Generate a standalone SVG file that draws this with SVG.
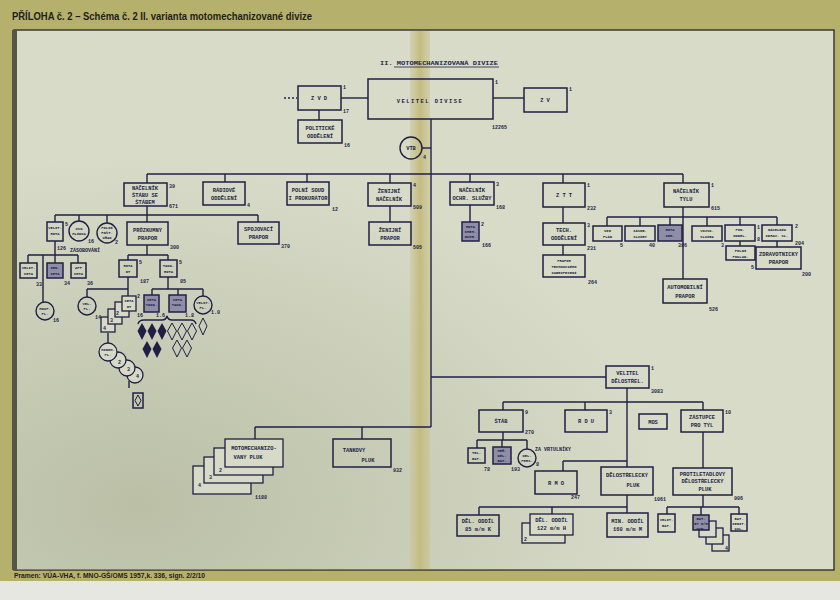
<svg xmlns="http://www.w3.org/2000/svg" width="840" height="600" viewBox="0 0 840 600">
<defs>
<style>
.t{font-family:"Liberation Mono","DejaVu Sans Mono",monospace;font-weight:bold;font-size:5.4px;fill:#221f45;text-anchor:middle}
.s{font-family:"Liberation Mono","DejaVu Sans Mono",monospace;font-weight:bold;font-size:3.8px;fill:#221f45;text-anchor:middle}
.n{font-family:"Liberation Mono","DejaVu Sans Mono",monospace;font-weight:bold;font-size:5px;fill:#221f45}
.b{fill:none;stroke:#221f45;stroke-width:1.5}
.bf{fill:#d6dac7;stroke:#221f45;stroke-width:1.3}
.d{fill:#8e8ea6;stroke:#221f45;stroke-width:1.5}
.c{fill:none;stroke:#221f45;stroke-width:1.4}
.cf{fill:#d6dac7;stroke:#221f45;stroke-width:1.3}
.fd{fill:#221f45}
.hd{fill:none;stroke:#221f45;stroke-width:1}
#conn path{stroke:#221f45;stroke-width:1.4;fill:none}
.hdr{font-family:"Liberation Sans",Arial,sans-serif;font-weight:bold;fill:#1e1e16}
</style>
<radialGradient id="shade" cx="0.15" cy="0.88" r="0.65">
<stop offset="0" stop-color="#9ea384" stop-opacity="0.5"/>
<stop offset="1" stop-color="#9ea384" stop-opacity="0"/>
</radialGradient>
<linearGradient id="fold" x1="0" y1="0" x2="1" y2="0">
<stop offset="0" stop-color="#c9c391" stop-opacity="0.4"/>
<stop offset="0.5" stop-color="#c4bb7e"/>
<stop offset="1" stop-color="#c9c391" stop-opacity="0.5"/>
</linearGradient>
</defs>

<!-- background -->
<rect x="0" y="0" width="840" height="600" fill="#e7e7e2"/>
<rect x="0" y="0" width="840" height="581" fill="#b6b06d"/>
<rect x="14" y="30" width="820" height="540" fill="#d7dbc8" stroke="#3c3c30" stroke-width="1.5"/>
<rect x="14" y="30" width="820" height="540" fill="url(#shade)"/>
<rect x="12" y="30" width="5" height="540" fill="#55564a"/>
<rect x="410" y="31" width="20" height="538" fill="url(#fold)"/>
<text class="hdr" x="12" y="20" font-size="10" textLength="300" lengthAdjust="spacingAndGlyphs">PŘÍLOHA č. 2 – Schéma č. 2 II. varianta motomechanizované divize</text>
<text class="hdr" x="14" y="578" font-size="6.8" textLength="191" lengthAdjust="spacingAndGlyphs">Pramen: VÚA-VHA, f. MNO-GŠ/OMS 1957,k. 336, sign. 2/2/10</text>

<text class="n" x="380" y="65" font-size="5.5" textLength="118" lengthAdjust="spacingAndGlyphs">II. MOTOMECHANIZOVANÁ DIVIZE</text>
<path d="M394,67 H499" stroke="#221f45" stroke-width="0.8"/>

<!-- connectors -->
<g id="conn">
<path d="M284,98 H297" stroke-dasharray="2,2"/>
<path d="M341,98 H368"/>
<path d="M319,110 V120"/>
<path d="M493,98 H524"/>
<path d="M431,119 V427"/>
<path d="M422,148 H431"/>
<path d="M147,174 H683"/>
<path d="M147,174 V183 M225,174 V182 M307,174 V182 M390,174 V183 M470,174 V182 M563,174 V183 M683,174 V183"/>
<path d="M390,206 V222 M470,205 V222 M563,207 V223 M563,245 V255"/>
<path d="M683,207 V279 M607,217 H777 M607,217 V226 M640,217 V226 M670,217 V225 M707,217 V226 M740,217 V225 M777,217 V225 M740,241 V246 M777,241 V247"/>
<path d="M147,206 V222 M55,215 H258 M55,215 V222 M79,215 V221 M107,215 V223 M258,215 V222"/>
<path d="M55,241 V263 M28,255 H78 M28,255 V263 M43,255 V302 M78,255 V263"/>
<path d="M147,245 V255 M128,255 H168 M128,255 V260 M168,255 V260"/>
<path d="M128,277 V296 M87,289 H128 M87,289 V297"/>
<path d="M168,277 V289 M152,289 H203 M152,289 V295 M178,289 V295 M203,289 V296"/>
<path d="M108,333 V343"/>
<path d="M129,381 V388"/>
<path d="M138,324 Q139,320 144,320 H162 Q166,320 167,316 Q168,320 172,320 H191 Q195,320 196,324"/>
<path d="M255,427 H431 M255,427 V439 M362,427 V439"/>
<path d="M431,377 H606"/>
<path d="M627,388 V467"/>
<path d="M503,402 H703 M503,402 V410 M585,402 V410 M703,402 V410"/>
<path d="M503,432 V440 M477,440 H527 M477,440 V448 M502,440 V447 M527,440 V449"/>
<path d="M563,461 H627 M563,461 V471"/>
<path d="M703,432 V468"/>
<path d="M627,495 V507 M479,507 H627 M479,507 V515 M552,507 V514 M627,507 V513"/>
<path d="M703,495 V507 M667,507 H739 M667,507 V514 M701,507 V515 M739,507 V514"/>
</g>

<!-- top level -->
<g id="velitel-divise">
<rect class="b" x="368" y="79" width="125" height="40"/>
<text class="t" x="430" y="103" font-size="7" letter-spacing="1.5">VELITEL DIVISE</text>
<text class="n" x="495" y="84">1</text>
<text class="n" x="492" y="129">12265</text>
</g>
<g id="zvd">
<rect class="b" x="298" y="86" width="43" height="24"/>
<text class="t" x="319" y="100" font-size="6">Z V D</text>
<text class="n" x="343" y="89">1</text>
<text class="n" x="343" y="113">17</text>
</g>
<g id="politicke">
<rect class="b" x="298" y="120" width="44" height="23"/>
<text class="t" x="320" y="130">POLITICKÉ</text>
<text class="t" x="320" y="138">ODDĚLENÍ</text>
<text class="n" x="344" y="147">16</text>
</g>
<g id="zv">
<rect class="b" x="524" y="88" width="43" height="24"/>
<text class="t" x="545" y="102" font-size="6">Z V</text>
<text class="n" x="569" y="91">1</text>
</g>
<g id="vtb">
<circle class="c" cx="411" cy="148" r="11"/>
<text class="t" x="411" y="150">VTB</text>
<text class="n" x="423" y="159">4</text>
</g>

<!-- row 1 -->
<g id="nacelnik-stabu">
<rect class="b" x="124" y="183" width="43" height="23"/>
<text class="t" x="145" y="190">NÁČELNÍK</text>
<text class="t" x="145" y="197">ŠTÁBU SE</text>
<text class="t" x="145" y="204">ŠTÁBEM</text>
<text class="n" x="169" y="188">39</text>
<text class="n" x="169" y="208">671</text>
</g>
<g id="radiove">
<rect class="b" x="203" y="182" width="42" height="23"/>
<text class="t" x="224" y="192">RÁDIOVÉ</text>
<text class="t" x="224" y="200">ODDĚLENÍ</text>
<text class="n" x="247" y="207">4</text>
</g>
<g id="polni-soud">
<rect class="b" x="287" y="182" width="42" height="23"/>
<text class="t" x="308" y="192">POLNÍ SOUD</text>
<text class="t" x="308" y="200">I PROKURÁTOR</text>
<text class="n" x="332" y="211">12</text>
</g>
<g id="zenijni-nacelnik">
<rect class="b" x="368" y="183" width="43" height="23"/>
<text class="t" x="389" y="193">ŽENIJNÍ</text>
<text class="t" x="389" y="201">NÁČELNÍK</text>
<text class="n" x="413" y="187">4</text>
<text class="n" x="413" y="209">509</text>
</g>
<g id="zenijni-prapor">
<rect class="b" x="369" y="222" width="42" height="23"/>
<text class="t" x="390" y="232">ŽENIJNÍ</text>
<text class="t" x="390" y="240">PRAPOR</text>
<text class="n" x="413" y="249">505</text>
</g>
<g id="nacelnik-ochr">
<rect class="b" x="450" y="182" width="44" height="23"/>
<text class="t" x="472" y="192">NÁČELNÍK</text>
<text class="t" x="472" y="200">OCHR. SLUŽBY</text>
<text class="n" x="496" y="186">3</text>
<text class="n" x="496" y="209">168</text>
</g>
<g id="rota-chem">
<rect class="d" x="462" y="222" width="17" height="19"/>
<text class="s" x="470.5" y="228">ROTA</text>
<text class="s" x="470.5" y="233">CHEM.</text>
<text class="s" x="470.5" y="238">OCHR.</text>
<text class="n" x="481" y="226">2</text>
<text class="n" x="482" y="247">166</text>
</g>
<g id="ztt">
<rect class="b" x="543" y="183" width="42" height="24"/>
<text class="t" x="564" y="197" font-size="6">Z T T</text>
<text class="n" x="587" y="187">1</text>
<text class="n" x="587" y="210">232</text>
</g>
<g id="tech-oddeleni">
<rect class="b" x="543" y="223" width="42" height="22"/>
<text class="t" x="564" y="232">TECH.</text>
<text class="t" x="564" y="240">ODDĚLENÍ</text>
<text class="n" x="587" y="227">3</text>
<text class="n" x="587" y="250">231</text>
</g>
<g id="prapor-tz">
<rect class="b" x="543" y="255" width="42" height="22" fill="#b3b4c0"/>
<text class="s" x="564" y="262">PRAPOR</text>
<text class="s" x="564" y="268">TECHNICKÉHO</text>
<text class="s" x="564" y="274">ZABEZPEČENÍ</text>
<text class="n" x="588" y="284">264</text>
</g>
<g id="nacelnik-tylu">
<rect class="b" x="664" y="183" width="45" height="24"/>
<text class="t" x="686" y="193">NÁČELNÍK</text>
<text class="t" x="686" y="201">TÝLU</text>
<text class="n" x="711" y="187">1</text>
<text class="n" x="711" y="210">615</text>
</g>
<g id="seo-plan">
<rect class="b" x="593" y="226" width="29" height="15"/>
<text class="s" x="607.5" y="232">SEO</text>
<text class="s" x="607.5" y="238">PLÁN</text>
<text class="n" x="620" y="247">5</text>
</g>
<g id="zasob-sluzby">
<rect class="b" x="625" y="226" width="30" height="15"/>
<text class="s" x="640" y="232">ZÁSOB.</text>
<text class="s" x="640" y="238">SLUŽBY</text>
<text class="n" x="649" y="247">40</text>
</g>
<g id="zdr-prapor">
<rect class="d" x="658" y="225" width="24" height="16"/>
<text class="s" x="670" y="231">ROTA</text>
<text class="s" x="670" y="237">ZDR.</text>
<text class="n" x="678" y="247">386</text>
</g>
<g id="vojsk-sluzba">
<rect class="b" x="692" y="226" width="30" height="15"/>
<text class="s" x="707" y="232">VOJSK.</text>
<text class="s" x="707" y="238">SLUŽBA</text>
<text class="n" x="721" y="247">3</text>
</g>
<g id="fin-oddel">
<rect class="b" x="725" y="225" width="30" height="16"/>
<text class="s" x="740" y="231">FIN.</text>
<text class="s" x="740" y="237">ODDĚL.</text>
<text class="n" x="757" y="229">1</text>
<text class="n" x="757" y="241">8</text>
</g>
<g id="polni-poklad">
<rect class="b" x="726" y="246" width="29" height="14"/>
<text class="s" x="740.5" y="252">POLNÍ</text>
<text class="s" x="740.5" y="258">POKLAD.</text>
<text class="n" x="751" y="269">5</text>
</g>
<g id="nacelnik-zdrav">
<rect class="b" x="762" y="225" width="30" height="16"/>
<text class="s" x="777" y="231">NÁČELNÍK</text>
<text class="s" x="777" y="237">ZDRAV. SL.</text>
<text class="n" x="795" y="228">2</text>
<text class="n" x="795" y="245">204</text>
</g>
<g id="zdrav-prapor">
<rect class="b" x="756" y="247" width="45" height="22"/>
<text class="t" x="778.5" y="256" font-size="4.6">ZDRAVOTNICKÝ</text>
<text class="t" x="778.5" y="264" font-size="4.6">PRAPOR</text>
<text class="n" x="802" y="276">200</text>
</g>
<g id="auto-prapor">
<rect class="b" x="663" y="279" width="44" height="24"/>
<text class="t" x="685" y="289">AUTOMOBILNÍ</text>
<text class="t" x="685" y="298">PRAPOR</text>
<text class="n" x="709" y="311">526</text>
</g>

<!-- left cluster -->
<g id="velit-rota">
<rect class="b" x="47" y="222" width="16" height="19"/>
<text class="s" x="55" y="229">VELIT.</text>
<text class="s" x="55" y="235">ROTA</text>
<text class="n" x="65" y="226">5</text>
<text class="n" x="57" y="250">126</text>
</g>
<g id="zsd">
<circle class="c" cx="79" cy="231" r="10"/>
<text class="s" x="79" y="230">ZSD</text>
<text class="s" x="79" y="235">HLÍDKA</text>
<text class="n" x="88" y="243">16</text>
</g>
<g id="polni-posta">
<circle class="c" cx="107" cy="233" r="10"/>
<text class="s" x="107" y="229">POLNÍ</text>
<text class="s" x="107" y="234">POŠT.</text>
<text class="s" x="107" y="239">ÚŘAD</text>
<text class="n" x="115" y="244">2</text>
</g>
<text class="n" x="70" y="252" font-size="4.4">ZÁSOBOVÁNÍ</text>
<g id="pruzkumny-prapor">
<rect class="b" x="127" y="222" width="41" height="23"/>
<text class="t" x="147.5" y="232">PRŮZKUMNÝ</text>
<text class="t" x="147.5" y="240">PRAPOR</text>
<text class="n" x="170" y="249">300</text>
</g>
<g id="spojovaci-prapor">
<rect class="b" x="238" y="222" width="41" height="22"/>
<text class="t" x="258.5" y="231">SPOJOVACÍ</text>
<text class="t" x="258.5" y="239">PRAPOR</text>
<text class="n" x="281" y="248">370</text>
</g>
<g id="velit-ceta">
<rect class="b" x="20" y="263" width="17" height="15"/>
<text class="s" x="28.5" y="269">VELIT.</text>
<text class="s" x="28.5" y="275">ČETA</text>
<text class="n" x="36" y="286">33</text>
</g>
<g id="ceta-2">
<rect class="d" x="47" y="263" width="16" height="15"/>
<text class="s" x="55" y="269">ŽEN.</text>
<text class="s" x="55" y="275">ČETA</text>
<text class="n" x="64" y="285">34</text>
</g>
<g id="aff-ceta">
<rect class="b" x="71" y="263" width="15" height="15"/>
<text class="s" x="78.5" y="269">AFF</text>
<text class="s" x="78.5" y="275">ČETA</text>
<text class="n" x="87" y="285">36</text>
</g>
<g id="houf-pl">
<circle class="c" cx="45" cy="311" r="9"/>
<text class="s" x="45" y="310">HOUF.</text>
<text class="s" x="45" y="315">PL.</text>
<text class="n" x="53" y="322">16</text>
</g>
<g id="rota-ot">
<rect class="b" x="119" y="260" width="18" height="17"/>
<text class="s" x="128" y="267">ROTA</text>
<text class="s" x="128" y="273">OT</text>
<text class="n" x="139" y="264">5</text>
<text class="n" x="140" y="283">187</text>
</g>
<g id="tank-rota">
<rect class="b" x="160" y="260" width="17" height="17"/>
<text class="s" x="168.5" y="267">TANK.</text>
<text class="s" x="168.5" y="273">ROTA</text>
<text class="n" x="179" y="264">5</text>
<text class="n" x="180" y="283">85</text>
</g>
<g id="vel-pl">
<circle class="c" cx="87" cy="306" r="9"/>
<text class="s" x="87" y="305">VEL.</text>
<text class="s" x="87" y="310">PL.</text>
<text class="n" x="95" y="319">14</text>
</g>
<g id="ceta-ot">
<rect class="bf" x="101" y="317" width="14" height="15"/>
<rect class="bf" x="108" y="309" width="14" height="15"/>
<rect class="bf" x="115" y="302" width="14" height="15"/>
<rect class="bf" x="122" y="296" width="14" height="15"/>
<text class="s" x="129" y="302">ČETA</text>
<text class="s" x="129" y="308">OT</text>
<text class="n" x="116" y="315" font-size="4">2</text>
<text class="n" x="110" y="322" font-size="4">3</text>
<text class="n" x="103" y="330" font-size="4">4</text>
<text class="n" x="137" y="298">2</text>
<text class="n" x="137" y="317">16</text>
</g>
<g id="minom-pl">
<circle class="cf" cx="135" cy="375" r="8"/>
<circle class="cf" cx="127" cy="368" r="8"/>
<circle class="cf" cx="118" cy="360" r="8"/>
<circle class="cf" cx="108" cy="352" r="9"/>
<text class="s" x="108" y="351">MINOM.</text>
<text class="s" x="108" y="356">PL.</text>
<text class="n" x="118" y="364" font-size="4">2</text>
<text class="n" x="127" y="371" font-size="4">3</text>
<text class="n" x="136" y="378" font-size="4">4</text>
</g>
<g id="symbol">
<rect class="b" x="133" y="393" width="10" height="15"/>
<path class="hd" d="M138,395 L141,400.5 L138,406 L135,400.5 Z"/>
</g>
<g id="ceta-tank-1">
<rect class="d" x="144" y="295" width="15" height="17"/>
<text class="s" x="151.5" y="301">ČETA</text>
<text class="s" x="151.5" y="306">TANK.</text>
<text class="n" x="156" y="317" font-size="4">1.6</text>
</g>
<g id="ceta-tank-2">
<rect class="d" x="169" y="295" width="17" height="17"/>
<text class="s" x="177.5" y="301">ČETA</text>
<text class="s" x="177.5" y="306">TANK.</text>
<text class="n" x="185" y="317" font-size="4">1.8</text>
</g>
<g id="velit-pl">
<circle class="c" cx="203" cy="305" r="9"/>
<text class="s" x="203" y="304">VELIT.</text>
<text class="s" x="203" y="309">PL.</text>
<text class="n" x="211" y="314" font-size="4">1.0</text>
</g>
<g id="diamonds">
<path class="fd" d="M142,323 L146.5,331 L142,340 L137.5,331 Z M152,323 L156.5,331 L152,340 L147.5,331 Z M162,323 L166.5,331 L162,340 L157.5,331 Z M147,341 L151.5,349 L147,358 L142.5,349 Z M157,341 L161.5,349 L157,358 L152.5,349 Z"/>
<path class="hd" d="M172,323 L176.5,331 L172,340 L167.5,331 Z M182,323 L186.5,331 L182,340 L177.5,331 Z M192,323 L196.5,331 L192,340 L187.5,331 Z M177,340 L181.5,348 L177,357 L172.5,348 Z M187,340 L191.5,348 L187,357 L182.5,348 Z M203,318 L207,326 L203,335 L199,326 Z"/>
</g>

<!-- bottom left -->
<g id="motomech-pluk">
<rect class="bf" x="193" y="466" width="58" height="28"/>
<rect class="bf" x="204" y="457" width="59" height="26"/>
<rect class="bf" x="214" y="448" width="59" height="27"/>
<rect class="bf" x="225" y="439" width="58" height="28"/>
<text class="t" x="254" y="450" font-size="4.6">MOTOMECHANIZO-</text>
<text class="t" x="248" y="459" font-size="4.6">VANÝ PLUK</text>
<text class="n" x="219" y="472" font-size="4.5">2</text>
<text class="n" x="209" y="479" font-size="4.5">3</text>
<text class="n" x="198" y="487" font-size="4.5">4</text>
<text class="n" x="255" y="499">1188</text>
</g>
<g id="tankovy-pluk">
<rect class="b" x="333" y="439" width="58" height="28"/>
<text class="t" x="354" y="452">TANKOVÝ</text>
<text class="t" x="368" y="462">PLUK</text>
<text class="n" x="393" y="472">932</text>
</g>

<!-- artillery -->
<g id="velitel-delostrel">
<rect class="b" x="606" y="366" width="43" height="22"/>
<text class="t" x="627.5" y="375">VELITEL</text>
<text class="t" x="627.5" y="383">DĚLOSTŘEL.</text>
<text class="n" x="651" y="370">1</text>
<text class="n" x="651" y="393">3083</text>
</g>
<g id="stab">
<rect class="b" x="479" y="410" width="44" height="22"/>
<text class="t" x="501" y="423">ŠTÁB</text>
<text class="n" x="525" y="414">9</text>
<text class="n" x="525" y="434">270</text>
</g>
<g id="rdu">
<rect class="b" x="565" y="410" width="42" height="22"/>
<text class="t" x="586" y="423">R D U</text>
<text class="n" x="609" y="414">3</text>
</g>
<g id="mos">
<rect class="b" x="639" y="414" width="28" height="15"/>
<text class="t" x="653" y="423.5">MOS</text>
</g>
<g id="zastupce">
<rect class="b" x="681" y="410" width="42" height="22"/>
<text class="t" x="702" y="419">ZÁSTUPCE</text>
<text class="t" x="702" y="427">PRO TÝL</text>
<text class="n" x="725" y="414">10</text>
</g>
<g id="tel-bat">
<rect class="b" x="468" y="448" width="17" height="15"/>
<text class="s" x="476.5" y="454">TEL.</text>
<text class="s" x="476.5" y="460">BAT.</text>
<text class="n" x="484" y="471">78</text>
</g>
<g id="mer-bat">
<rect class="d" x="493" y="447" width="18" height="17"/>
<text class="s" x="502" y="452">MĚŘ.</text>
<text class="s" x="502" y="457">DĚL.</text>
<text class="s" x="502" y="462">BAT.</text>
<text class="n" x="511" y="471">193</text>
</g>
<g id="del-pers">
<circle class="c" cx="527" cy="458" r="9"/>
<text class="s" x="527" y="457">DĚL.</text>
<text class="s" x="527" y="462">PERS.</text>
<text class="n" x="536" y="466">8</text>
<text class="n" x="535" y="451" font-size="4.2">ZA VRTULNÍKY</text>
</g>
<g id="rmo">
<rect class="b" x="535" y="471" width="42" height="23"/>
<text class="t" x="556" y="485">R M O</text>
<text class="n" x="571" y="499">247</text>
</g>
<g id="delostrelecky-pluk">
<rect class="b" x="601" y="467" width="52" height="28"/>
<text class="t" x="627" y="477">DĚLOSTŘELECKÝ</text>
<text class="t" x="633" y="487">PLUK</text>
<text class="n" x="654" y="501">1061</text>
</g>
<g id="protiletadlovy-pluk">
<rect class="b" x="673" y="468" width="59" height="27"/>
<text class="t" x="702.5" y="476" font-size="4.6">PROTILETADLOVÝ</text>
<text class="t" x="702.5" y="483" font-size="4.6">DĚLOSTŘELECKÝ</text>
<text class="t" x="705" y="491" font-size="4.6">PLUK</text>
<text class="n" x="734" y="500">906</text>
</g>
<g id="del-oddil-85">
<rect class="b" x="457" y="515" width="42" height="21"/>
<text class="t" x="478" y="523">DĚL. ODDÍL</text>
<text class="t" x="478" y="531">85 m/m K</text>
</g>
<g id="del-oddil-122">
<rect class="bf" x="522" y="523" width="43" height="20"/>
<rect class="bf" x="530" y="514" width="43" height="21"/>
<text class="t" x="551.5" y="522">DĚL. ODDÍL</text>
<text class="t" x="551.5" y="530">122 m/m H</text>
<text class="n" x="524" y="541" font-size="4.5">2</text>
</g>
<g id="min-oddil">
<rect class="b" x="607" y="513" width="41" height="24"/>
<text class="t" x="627.5" y="523">MIN. ODDÍL</text>
<text class="t" x="627.5" y="531">160 m/m M</text>
</g>
<g id="velit-bat">
<rect class="b" x="658" y="514" width="17" height="18"/>
<text class="s" x="666.5" y="521">VELIT.</text>
<text class="s" x="666.5" y="527">BAT.</text>
</g>
<g id="bat-57">
<rect class="bf" x="712" y="535" width="17" height="16"/>
<rect class="bf" x="706" y="528" width="17" height="16"/>
<rect class="bf" x="699" y="521" width="17" height="16"/>
<rect class="d" x="693" y="515" width="16" height="15"/>
<text class="s" x="701" y="520">BAT.</text>
<text class="s" x="701" y="525">57 m/m</text>
<text class="s" x="701" y="529.5">KAN.</text>
<text class="n" x="725" y="550" font-size="4">4</text>
</g>
<g id="bat-zenit">
<rect class="b" x="731" y="514" width="16" height="17"/>
<text class="s" x="739" y="519.5">BAT.</text>
<text class="s" x="739" y="524.5">ZENIT.</text>
<text class="s" x="739" y="529.5">KUL.</text>
</g>
</svg>
